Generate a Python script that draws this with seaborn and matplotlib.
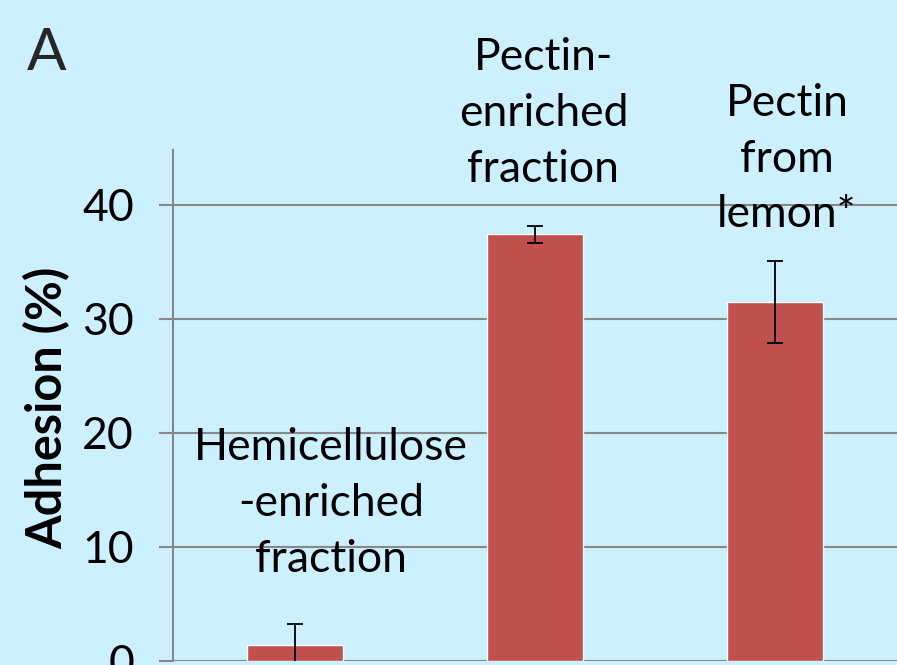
import numpy as np
import pandas as pd
import seaborn as sns
import matplotlib.pyplot as plt

# 数据
categories = ['Hemicellulose\n-enriched\nfraction', 'Pectin-\nenriched\nfraction', 'Pectin\nfrom\nlemon*']
adhesion = [1.4, 37.4, 31.5]
errors = [1.85, 0.75, 3.6]
yticks = [0, 10, 20, 30, 40]

bg = '#CCF0FF'
grid_c = '#888888'
bar_c = '#C0504D'

sns.set_theme(style='white')
plt.rcParams['font.family'] = ['Lato', 'DejaVu Sans']

fig = plt.figure(figsize=(8.97, 6.65), dpi=100, facecolor=bg)
ax = fig.add_axes([173 / 897, 4.3 / 665, 724 / 897, 510.7 / 665])
ax.set_facecolor(bg)

df = pd.DataFrame({'cat': categories, 'val': adhesion})
sns.barplot(data=df, x='cat', y='val', color=bar_c, width=0.4,
            saturation=1, errorbar=None, ax=ax, zorder=2)
ax.errorbar(np.arange(len(adhesion)), adhesion, yerr=errors, fmt='none',
            ecolor='black', elinewidth=1.3, capsize=6, capthick=1.3, zorder=3)

ax.set_xlim(-0.508, 2.508)
ax.set_ylim(0, 44.8)
ax.set_yticks(yticks)
ax.yaxis.grid(True, color=grid_c, linewidth=1.5, zorder=0)
ax.set_axisbelow(True)
for s in ['top', 'right', 'bottom']:
    ax.spines[s].set_visible(False)
ax.spines['left'].set_color(grid_c)
ax.spines['left'].set_linewidth(1.5)
ax.tick_params(axis='y', which='major', left=True, length=10, width=1.5,
               color=grid_c, labelsize=32, pad=18, labelcolor='black')
ax.tick_params(axis='x', bottom=False, labelbottom=False)
ax.set_xlabel('')
ax.set_ylabel('Adhesion (%)', fontsize=35, fontweight='bold', color='black')
ax.yaxis.set_label_coords(-0.142, 0.495)

# 类别标签
label_x = [0.15, 1.035, 2.05]
label_y = [13.8, 48.0, 44.0]
for lx, ly, txt in zip(label_x, label_y, categories):
    ax.text(lx, ly, txt, ha='center', va='center', fontsize=32,
            linespacing=1.45, color='black', clip_on=False)

fig.text(47 / 897, 1 - 70 / 665, 'A', ha='center', va='baseline', fontsize=42)

fig.savefig('out.png', dpi=100, facecolor=bg)
